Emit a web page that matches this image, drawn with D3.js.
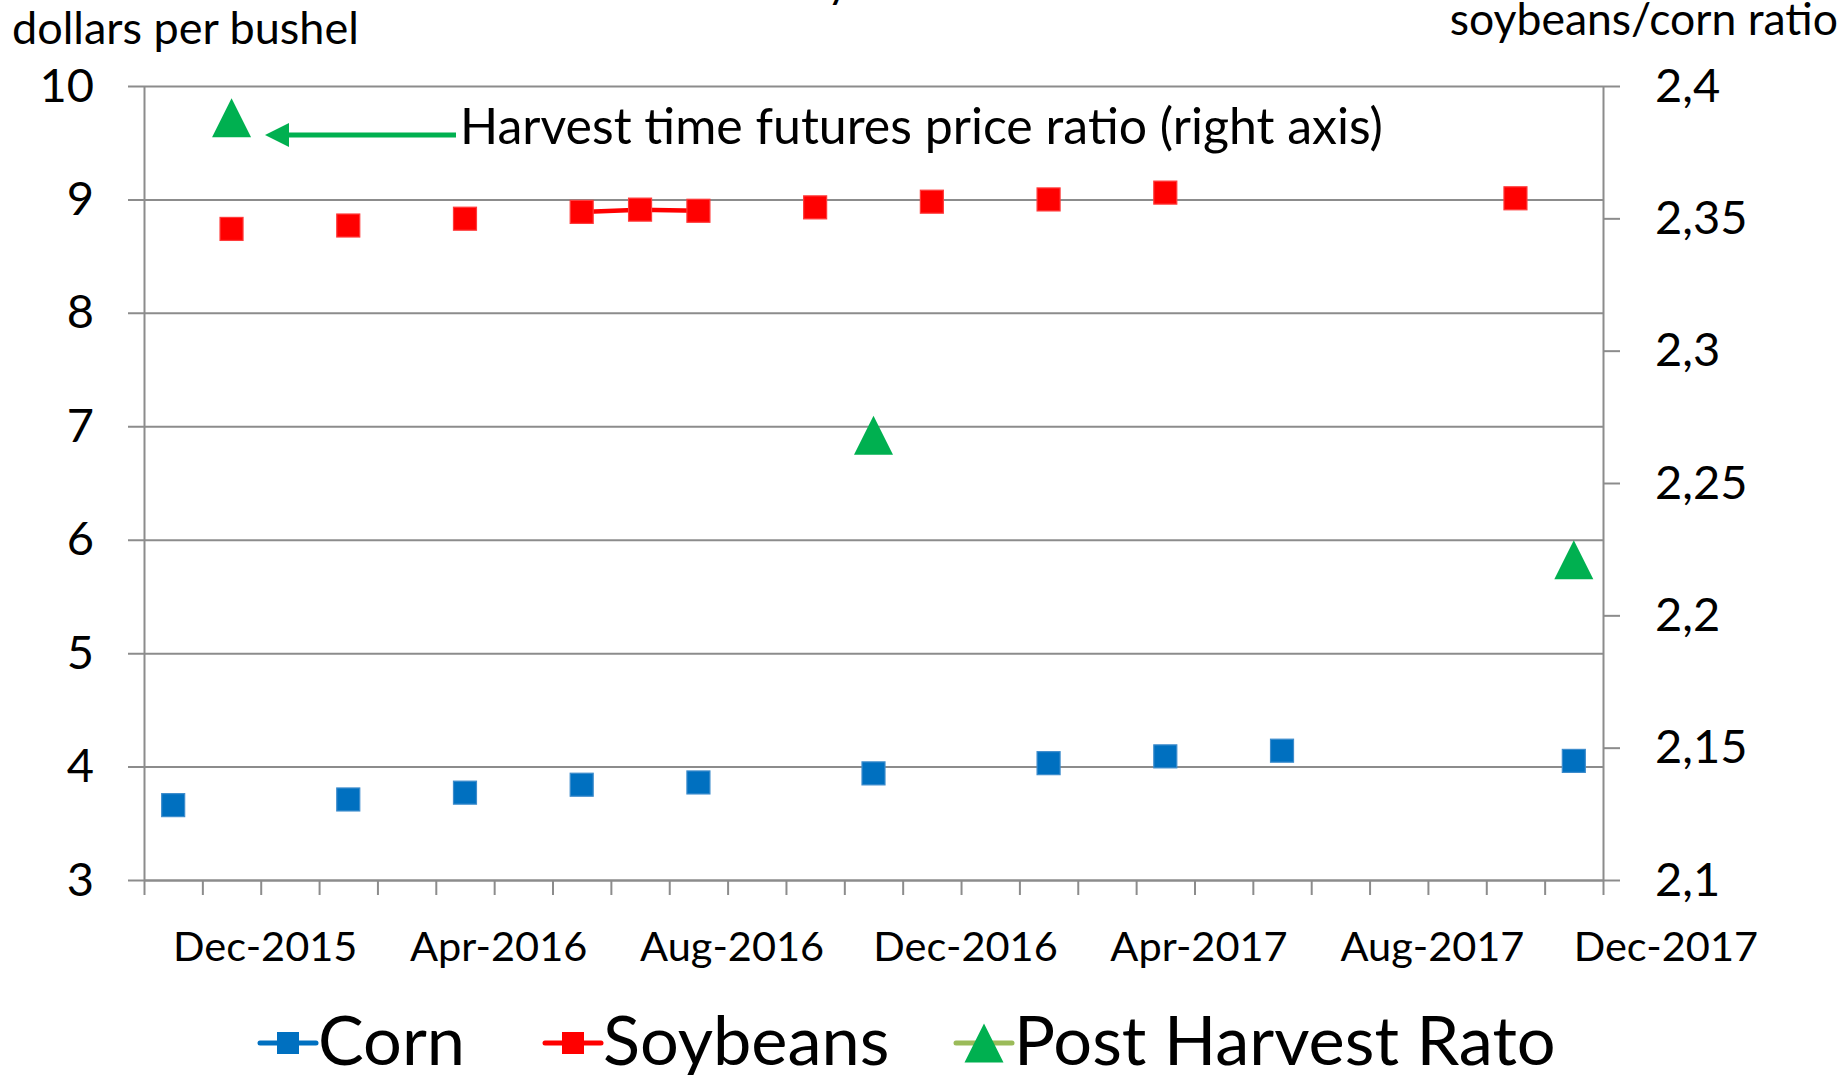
<!DOCTYPE html>
<html><head><meta charset="utf-8">
<script src="https://cdn.jsdelivr.net/npm/d3@7"></script>
<style>
html,body{margin:0;padding:0;background:#fff;}
svg{display:block;font-family:Lato,"Noto Sans",sans-serif;}
</style></head><body>
<svg id="chart" width="1847" height="1075"></svg>
<script>
// ---------------- data ----------------
const cornMonths  = ["2015-12","2016-03","2016-05","2016-07","2016-09","2016-12","2017-03","2017-05","2017-07","2017-12"];
const cornPrices  = [3.66, 3.71, 3.77, 3.84, 3.86, 3.94, 4.03, 4.09, 4.14, 4.05];
const soyMonths   = ["2016-01","2016-03","2016-05","2016-07","2016-08","2016-09","2016-11","2017-01","2017-03","2017-05","2017-11"];
const soyPrices   = [8.74, 8.77, 8.83, 8.89, 8.91, 8.90, 8.93, 8.98, 9.00, 9.06, 9.01];
const ratioMonths = ["2016-01","2016-12","2017-12"];
const ratioValues = [2.388, 2.268, 2.221];

const axisStartMonth = "2015-12";
const axisMonthCount = 25;
const xTickLabels = ["Dec-2015","Apr-2016","Aug-2016","Dec-2016","Apr-2017","Aug-2017","Dec-2017"];
const xLabelMonths = ["2015-12","2016-04","2016-08","2016-12","2017-04","2017-08","2017-12"];
const leftTicks = [3,4,5,6,7,8,9,10];
const rightTicks = [2.1,2.15,2.2,2.25,2.3,2.35,2.4];
const rightTickLabels = ["2,1","2,15","2,2","2,25","2,3","2,35","2,4"];
const seriesNames = ["Corn","Soybeans","Post Harvest Rato"];
const leftTitle = "dollars per bushel";
const rightTitle = "soybeans/corn ratio";
const noteText = "Harvest time futures price ratio (right axis)";

// ---------------- layout ----------------
const L = 144, R = 1603, T = 86, B = 880;
const gridColor = "#8c8c8c";
const cornColor = "#0070C0", soyColor = "#FF0000", ratioColor = "#00B050", ratioLegendLine = "#9BBB59";

function monthIndex(s){
  const [y0,m0] = axisStartMonth.split("-").map(Number);
  const [y,m] = s.split("-").map(Number);
  return (y - y0) * 12 + (m - m0);
}

const x  = d3.scaleLinear().domain([0, axisMonthCount]).range([L, R]);
const yL = d3.scaleLinear().domain([3, 10]).range([B, T]);
const yR = d3.scaleLinear().domain([2.1, 2.4]).range([B, T]);
const xc = m => x(monthIndex(m) + 0.5);   // points sit in the middle of month slot

const svg = d3.select("#chart");

// partially visible title glyph at top edge
svg.append("text").attr("x", 827).attr("y", -3).attr("font-size", 44).text("y");

// grid lines (with left tick extension)
const grid = svg.append("g").attr("transform", `translate(${R},0)`)
  .call(d3.axisLeft(yL).tickValues(leftTicks).tickSize(R - L + 16).tickFormat(""));
grid.select(".domain").remove();
grid.selectAll("line").attr("stroke", gridColor).attr("stroke-width", 2);

// left axis
const la = svg.append("g").attr("transform", `translate(${L},0)`)
  .call(d3.axisLeft(yL).tickValues(leftTicks).tickSize(0).tickSizeOuter(0).tickPadding(50).tickFormat(d3.format("d")));
la.select(".domain").attr("stroke", gridColor).attr("stroke-width", 2);
la.selectAll("text").attr("font-size", 47).attr("font-family", "Lato").attr("fill", "#000");

// right axis
const ra = svg.append("g").attr("transform", `translate(${R},0)`)
  .call(d3.axisRight(yR).tickValues(rightTicks).tickSize(17).tickSizeOuter(0).tickPadding(35)
        .tickFormat((d,i) => rightTickLabels[i]));
ra.select(".domain").attr("stroke", gridColor).attr("stroke-width", 2);
ra.selectAll("line").attr("stroke", gridColor).attr("stroke-width", 2);
ra.selectAll("text").attr("font-size", 47).attr("font-family", "Lato").attr("fill", "#000");

// bottom axis: monthly tick marks
const ba = svg.append("g").attr("transform", `translate(0,${B})`)
  .call(d3.axisBottom(x).tickValues(d3.range(0, axisMonthCount + 1)).tickSize(15).tickSizeOuter(0).tickFormat(""));
ba.select(".domain").attr("stroke", gridColor).attr("stroke-width", 2);
ba.selectAll("line").attr("stroke", gridColor).attr("stroke-width", 2);

// bottom labels centred in each 4-month major unit
const bl = svg.append("g").attr("transform", `translate(4,${B})`)
  .call(d3.axisBottom(x).tickValues(xLabelMonths.map(m => monthIndex(m) + 2)).tickSize(0)
        .tickFormat((d,i) => xTickLabels[i]));
bl.select(".domain").remove();
bl.selectAll("text").attr("font-size", 41.5).attr("font-family", "Lato").attr("fill", "#000")
  .attr("y", 81).attr("dy", 0);

// axis titles
svg.append("text").attr("x", 12).attr("y", 44).attr("font-size", 45).text(leftTitle);
svg.append("text").attr("x", 1838).attr("y", 35).attr("font-size", 44.5).attr("text-anchor", "end").text(rightTitle);

// soybean line segments (only between consecutive months)
const soyMonthly = d3.range(axisMonthCount).map(() => null);
soyMonths.forEach((m,i) => soyMonthly[monthIndex(m)] = soyPrices[i]);
svg.append("path")
  .attr("d", d3.line().defined(d => d != null).x((d,i) => x(i + 0.5)).y(d => yL(d))(soyMonthly))
  .attr("fill", "none").attr("stroke", soyColor).attr("stroke-width", 4.5).attr("stroke-linejoin", "round");

const S = 23;
// corn markers
svg.append("g").selectAll("rect").data(cornMonths.map((m,i) => ({m, v: cornPrices[i]}))).join("rect")
  .attr("x", d => xc(d.m) - S/2).attr("y", d => yL(d.v) - S/2).attr("width", S).attr("height", S)
  .attr("fill", cornColor).attr("stroke", "#3d8ccc").attr("stroke-width", 1.2);
// soybean markers
svg.append("g").selectAll("rect").data(soyMonths.map((m,i) => ({m, v: soyPrices[i]}))).join("rect")
  .attr("x", d => xc(d.m) - S/2).attr("y", d => yL(d.v) - S/2).attr("width", S).attr("height", S)
  .attr("fill", soyColor).attr("stroke", "#ff3b3b").attr("stroke-width", 1.2);

// ratio triangles
const tri = (cx, cy, s) => `M${cx},${cy - s/2}L${cx + s/2},${cy + s/2}L${cx - s/2},${cy + s/2}Z`;
svg.append("g").selectAll("path").data(ratioMonths.map((m,i) => ({m, v: ratioValues[i]}))).join("path")
  .attr("d", d => tri(xc(d.m), yR(d.v), 39)).attr("fill", ratioColor);

// annotation arrow + text
const ann = svg.append("g");
ann.append("line").attr("x1", 286).attr("x2", 456).attr("y1", 135).attr("y2", 135)
  .attr("stroke", ratioColor).attr("stroke-width", 5);
ann.append("path").attr("d", "M265,135L289,123L289,147Z").attr("fill", ratioColor);
ann.append("text").attr("x", 460).attr("y", 144).attr("font-size", 50).text(noteText);

// legend
const legendItems = [
  {name: seriesNames[0], color: cornColor, line: cornColor, shape: "square", x: 260},
  {name: seriesNames[1], color: soyColor,  line: soyColor,  shape: "square", x: 545},
  {name: seriesNames[2], color: ratioColor, line: ratioLegendLine, shape: "triangle", x: 956}
];
const ly = 1043;
const lg = svg.append("g").selectAll("g").data(legendItems).join("g");
lg.append("line").attr("x1", d => d.x).attr("x2", d => d.x + 56).attr("y1", ly).attr("y2", ly)
  .attr("stroke", d => d.line).attr("stroke-width", 5).attr("stroke-linecap", "round");
lg.filter(d => d.shape === "square").append("rect")
  .attr("x", d => d.x + 28 - 11).attr("y", ly - 11).attr("width", 22).attr("height", 22)
  .attr("fill", d => d.color);
lg.filter(d => d.shape === "triangle").append("path")
  .attr("d", d => tri(d.x + 28, ly, 39)).attr("fill", d => d.color);
lg.append("text").attr("x", d => d.x + 58).attr("y", 1065).attr("font-size", 68.5).text(d => d.name);
</script>
</body></html>
